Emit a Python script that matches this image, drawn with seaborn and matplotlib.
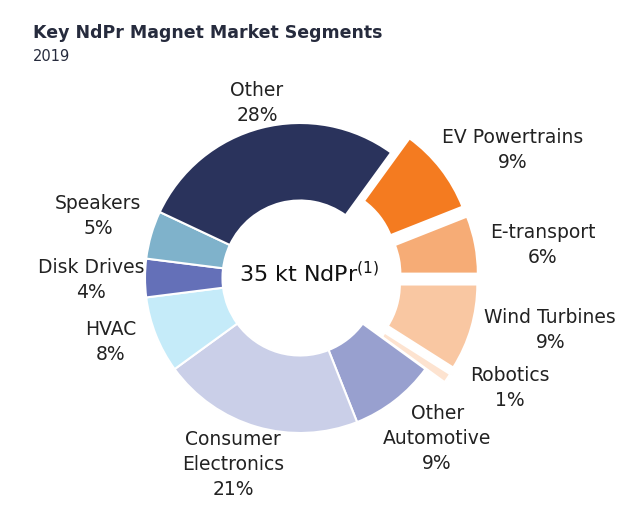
import matplotlib
matplotlib.use('Agg')
import matplotlib.pyplot as plt
import seaborn as sns
import numpy as np

# Data (clockwise from top-right)
segments = ['EV Powertrains', 'E-transport', 'Wind Turbines', 'Robotics', 'Other\nAutomotive',
            'Consumer\nElectronics', 'HVAC', 'Disk Drives', 'Speakers', 'Other']
shares = [9, 6, 9, 1, 9, 21, 8, 4, 5, 28]
colors = ['#F47B20', '#F6AC76', '#F9C7A2', '#FDE3D0', '#98A0CF',
          '#CACFE8', '#C5EBF9', '#6470B8', '#7FB2CB', '#2A335C']
explode = [0.15, 0.15, 0.15, 0.15, 0, 0, 0, 0, 0, 0]
# label placement: distance from centre (radius units) and angle tweak (deg) from the wedge middle
label_dist = [1.60, 1.58, 1.65, 1.53, 1.36, 1.28, 1.29, 1.35, 1.36, 1.16]
label_turn = [-6.8, -3.0, 4.4, 6.6, 2.8, -3.5, -3.0, 0.5, -0.8, -0.6]

sns.set_theme(style='white')
plt.rcParams['font.family'] = ['DejaVu Sans']

W, H, dpi = 640, 522, 100
cx, cy, R = 300, 278, 155   # pixel centre and radius of donut
fig = plt.figure(figsize=(W / dpi, H / dpi), dpi=dpi)
ax = fig.add_axes([0, 0, 1, 1])
ax.set_axis_off()

wedges, _ = ax.pie(shares, colors=colors, explode=explode, startangle=54, counterclock=False,
                   radius=1.0, wedgeprops=dict(width=0.5, edgecolor='white', linewidth=1.5),
                   normalize=True)
ax.set_xlim(-cx / R, (W - cx) / R)
ax.set_ylim(-(H - cy) / R, cy / R)
ax.set_aspect('auto')

for w, name, val, d, t in zip(wedges, segments, shares, label_dist, label_turn):
    ang = np.deg2rad((w.theta1 + w.theta2) / 2 + t)
    ax.text(d * np.cos(ang), d * np.sin(ang), f'{name}\n{val}%', ha='center', va='center',
            fontsize=13.5, color='#222222', linespacing=1.4)

ax.text(0.06, 0.03, '35 kt NdPr$^{(1)}$', ha='center', va='center', fontsize=16, color='#111111')

fig.text(33 / W, 1 - 38 / H, 'Key NdPr Magnet Market Segments', fontsize=12.5, fontweight='bold',
         color='#262b3d', va='baseline', ha='left')
fig.text(33 / W, 1 - 61 / H, '2019', fontsize=10.5, color='#262b3d', va='baseline', ha='left')

fig.savefig('out.png', dpi=dpi)
plt.close(fig)
